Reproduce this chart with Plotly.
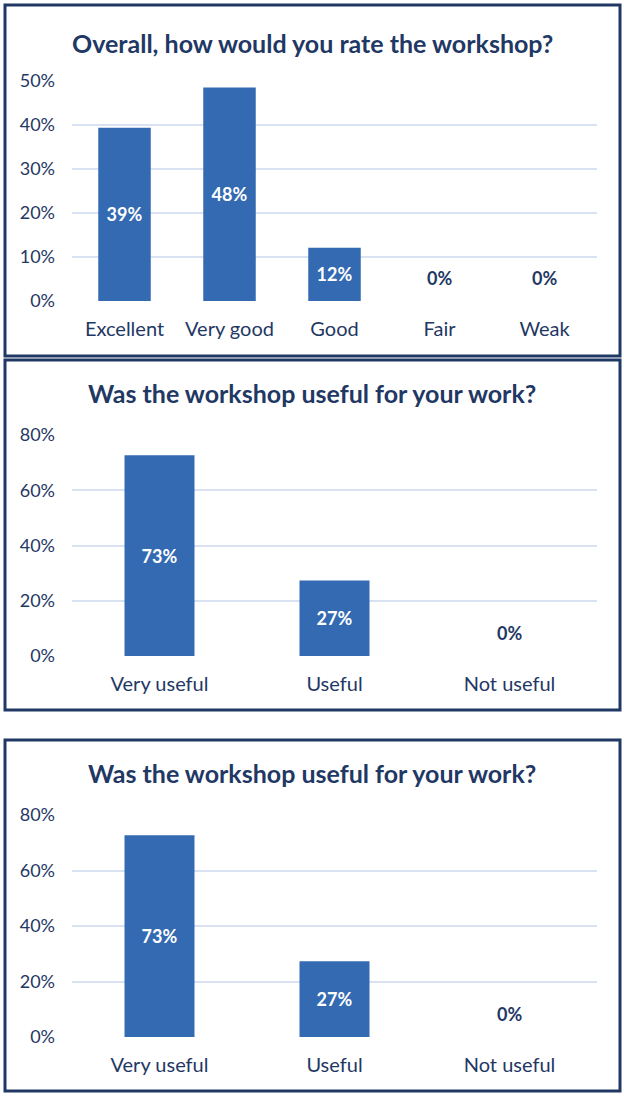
import plotly.graph_objects as go

# datos (33 respuestas)
cat_rating = ["Excellent", "Very good", "Good", "Fair", "Weak"]
val_rating = [0.394, 0.485, 0.121, 0.0, 0.0]

cat_useful = ["Very useful", "Useful", "Not useful"]
val_useful_a = [0.727, 0.273, 0.0]
val_useful_b = [0.727, 0.273, 0.0]

titulos = [
    "Overall, how would you rate the workshop?",
    "Was the workshop useful for your work?",
    "Was the workshop useful for your work?",
]

W, H = 624, 1096
NAVY = "#1F3864"
BAR = "#336AB2"
GRID = "#D9E2F3"
FONT = "Lato"


def py(px):
    # pixel vertical -> coordenada paper
    return 1 - px / H


def barras(cats, vals, ancho, xa, ya):
    return go.Bar(
        x=cats, y=vals, width=ancho,
        marker=dict(color=BAR, line=dict(width=0)),
        text=[f"{v:.0%}" if v > 0 else "" for v in vals],
        textposition="inside",
        insidetextanchor="middle",
        insidetextfont=dict(color="white", size=18, family=FONT, weight="bold"),
        textangle=0, constraintext="none",
        xaxis=xa, yaxis=ya, showlegend=False,
    )


def etiquetas_cero(cats, vals, xa, ya):
    # Excel deja la etiqueta de las barras en 0 un poco por encima de la base
    return [
        dict(text=f"<b>{v:.0%}</b>", x=c, y=0, xref=xa, yref=ya,
             xanchor="center", yanchor="bottom", yshift=10, showarrow=False,
             font=dict(color=NAVY, size=18, family=FONT))
        for c, v in zip(cats, vals) if v == 0
    ]


fig = go.Figure()
fig.add_trace(barras(cat_rating, val_rating, 0.5, "x", "y"))
fig.add_trace(barras(cat_useful, val_useful_a, 0.4, "x2", "y2"))
fig.add_trace(barras(cat_useful, val_useful_b, 0.4, "x3", "y3"))

# (px del 0%, px del max, max, paso)
paneles = [
    (301, 81, 0.5, 0.1),
    (656, 435, 0.8, 0.2),
    (1037, 815, 0.8, 0.2),
]
xdom = [72 / W, 597 / W]
ejes = {}
for i, (y0, y1, ymax, paso) in enumerate(paneles, start=1):
    sfx = "" if i == 1 else str(i)
    ejes[f"xaxis{sfx}"] = dict(
        domain=xdom, anchor=f"y{sfx}", showgrid=False, showline=False,
        zeroline=False, ticks="", ticklabelstandoff=14, automargin=False,
        tickfont=dict(color=NAVY, size=20, family=FONT),
    )
    ejes[f"yaxis{sfx}"] = dict(
        domain=[py(y0), py(y1)], anchor=f"x{sfx}", range=[0, ymax],
        dtick=paso, tickformat=".0%", showgrid=True, gridcolor=GRID,
        gridwidth=2, zeroline=False, showline=False, ticks="",
        ticklabelstandoff=16, automargin=False,
        tickfont=dict(color=NAVY, size=18, family=FONT),
    )

# marcos de cada panel
marcos = [(5, 356), (360, 710), (740, 1091)]
shapes = [
    dict(type="rect", xref="paper", yref="paper",
         x0=5 / W, x1=620 / W, y0=py(b), y1=py(t),
         line=dict(color=NAVY, width=3), layer="above")
    for t, b in marcos
]

titulo_y = [43, 393, 773]
annotations = [
    dict(text=f"<b>{t}</b>", x=0.5, y=py(yy), xref="paper", yref="paper",
         xanchor="center", yanchor="middle", showarrow=False,
         font=dict(color=NAVY, size=25, family=FONT))
    for t, yy in zip(titulos, titulo_y)
]
annotations += etiquetas_cero(cat_rating, val_rating, "x", "y")
annotations += etiquetas_cero(cat_useful, val_useful_a, "x2", "y2")
annotations += etiquetas_cero(cat_useful, val_useful_b, "x3", "y3")

fig.update_layout(
    width=W, height=H,
    margin=dict(l=0, r=0, t=0, b=0, pad=0, autoexpand=False),
    paper_bgcolor="white", plot_bgcolor="white",
    shapes=shapes, annotations=annotations,
    font=dict(family=FONT, color=NAVY),
    **ejes,
)

fig.write_html(
    "out.html",
    config={"displayModeBar": False},
    post_script="document.body.style.margin='0';document.body.style.overflow='hidden';",
)
